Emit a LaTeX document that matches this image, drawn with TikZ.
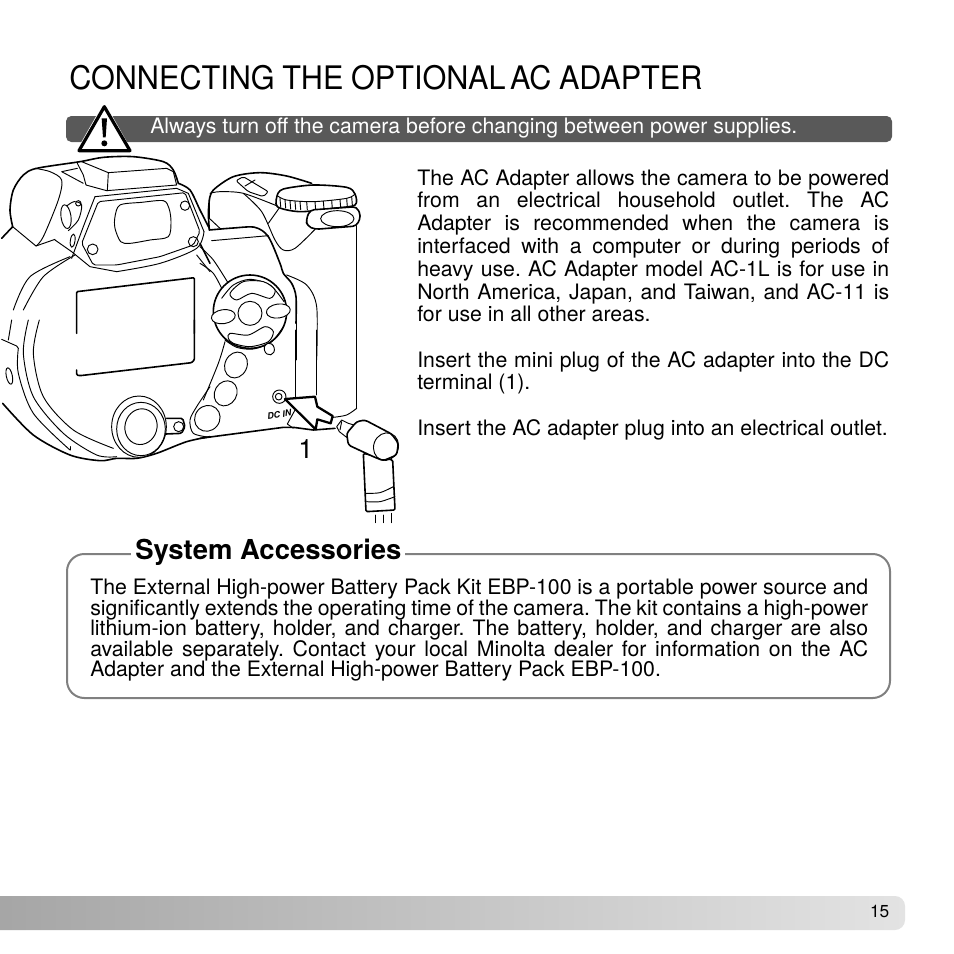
\documentclass[tikz,border=0pt]{standalone}
\usepackage{fontspec}
\setmainfont{TeX Gyre Heros}
\usetikzlibrary{calc}

\begin{document}
\begin{tikzpicture}[x=0.75pt,y=-0.75pt]

\tikzset{camline/.style = {black,line width=0.7pt,line join=round,line cap=round}}
\tikzset{camthick/.style = {black,line width=1.2pt,line join=round,line cap=round}}
\tikzset{bodytext/.style = {anchor=north west,inner sep=0pt,align=justify,font=\fontsize{15.95}{17.1}\selectfont\frenchspacing}}
\tikzset{boxtext/.style = {anchor=north west,inner sep=0pt,align=justify,font=\fontsize{15.95}{15.4}\selectfont\frenchspacing}}
\tikzset{topview/.style = {shift={(0,100)},x=0.25pt,y=-0.25pt}}
\tikzset{gripview/.style = {shift={(200,150)},x=0.25pt,y=-0.25pt}}
\tikzset{lowview/.style = {shift={(0,320)},x=0.25pt,y=-0.25pt}}
\tikzset{plugview/.style = {shift={(200,330)},x=0.25pt,y=-0.25pt}}

\useasboundingbox (0,0) rectangle (954,954);
\fill[white] (0,0) rectangle (954,954);

%heading
\node[anchor=west,inner sep=0pt,xscale=0.945,transform shape,font=\fontsize{24.3}{30}\selectfont] (title) at (69,78) {\spaceskip=6pt CONNECTING THE OPTIONAL\kern-2.5pt{} AC ADAPTER};
\fill[black!65,rounded corners=4pt] (66,116) rectangle (892,142);
\node[anchor=base west,inner sep=0pt,text=white,font=\fontsize{15.95}{17}\selectfont] (warning) at (150,133.5) {Always turn off the camera before changing between power supplies.};

%warning sign
\begin{scope}[topview]
\fill[white] (313,5) -- (225,160) -- (400,160) -- cycle;
\draw[black,line width=2.4pt,line join=round] (313,20) -- (237,152) -- (390,152) -- cycle;
\fill[black] (305,55) -- (321,55) -- (317,112) -- (309,112) -- cycle;
\fill[black] (313,130) circle (9);
\end{scope}

%grip
\begin{scope}[gripview]
\draw[camthick] plot[smooth] coordinates {(28,150) (40,120) (100,80) (180,68) (260,78) (335,100)};
\draw[camline] (28,150) -- (28,205) -- (60,235);
\draw[camline] plot[smooth] coordinates {(30,130) (60,125) (130,130) (232,168)};
\draw[camline] plot[smooth] coordinates {(130,130) (185,185) (225,270) (250,300) (285,295) (345,238)};
\draw[camline] (237,175) -- (205,220);
\draw[camline,rounded corners=1.5pt] (108,92) -- (130,80) -- (205,125) -- (190,140) -- (145,125) -- cycle;
\draw[camline] (135,108) -- (165,90);
\draw[camthick] plot[smooth] coordinates {(28,240) (100,234) (165,232) (205,260) (240,340) (250,370) (275,400) (288,440) (288,520)};
\draw[camline] (288,520) -- (288,630);
\draw[camline] (35,272) -- (205,257);
\draw[camline] plot[smooth] coordinates {(260,375) (320,405) (350,470) (350,630)};
\draw[camthick] (470,228) -- (470,630);
%top dial
\draw[camthick,fill=white] plot[smooth] coordinates {(232,135) (250,117) (340,105) (440,112) (465,132) (465,165) (400,175) (300,185) (232,170) (232,135)};
\draw[camline] plot[smooth] coordinates {(232,137) (260,150) (340,155) (440,145) (465,132)};
\foreach \tx/\ty in {240/145,255/149,270/152,285/153,300/154,320/155,345/155,370/153,395/151,420/148,440/145,455/140}
  \draw[camline] (\tx,\ty) -- ++(2,25);
\draw[camthick,fill=white,rounded corners=3pt] (318,210) -- (330,180) -- (470,170) -- (483,198) -- (470,228) -- (345,238) -- (322,228) -- cycle;
\draw[camline] (412,206) ellipse (50 and 24);
\end{scope}

%arcs behind the control pad
\begin{scope}[gripview]
\draw[camline] plot[smooth] coordinates {(0,290) (40,330) (85,400)};
\draw[camline] plot[smooth] coordinates {(0,340) (40,370) (70,425)};
\draw[camthick,fill=white] (150,485) circle (110);
\draw[camline] plot[smooth] coordinates {(65,445) (100,405) (150,388) (210,405) (252,455)};
\draw[camline] plot[smooth] coordinates {(75,570) (110,592) (160,597) (215,575) (250,530)};
\draw[camline,fill=white] plot[smooth cycle] coordinates {(90,430) (130,395) (190,395) (225,420) (210,445) (155,430) (110,450)};
\draw[camline,fill=white] plot[smooth cycle] coordinates {(90,550) (145,555) (195,530) (220,545) (205,575) (150,590) (100,580) (85,565)};
\draw[camline,fill=white,rotate around={8:(70,500)}] (70,500) ellipse (36 and 21);
\draw[camline,fill=white,rotate around={8:(235,483)}] (235,483) ellipse (36 and 21);
\draw[camline,fill=white] (150,490) circle (36);
\draw[camline,fill=white,rotate around={15:(208,597)}] (208,597) ellipse (15 and 18);
\end{scope}

%viewfinder
\begin{scope}[topview]
\draw[camthick] plot[smooth] coordinates {(5,415) (38,380)};
\draw[camthick] plot[smooth] coordinates {(38,380) (30,330) (40,270) (70,225) (110,205) (240,185) (310,172) (400,170) (490,185) (520,210) (535,250)};
\draw[camthick] plot[smooth] coordinates {(535,250) (570,270) (600,330) (628,385)};
\draw[camline] (38,380) -- (108,438) -- (165,418);
\draw[camline] plot[smooth] coordinates {(105,205) (150,215) (185,240) (175,300) (130,410) (108,438)};
\draw[camline] (232,190) -- (250,225) -- (258,255) -- (320,272) -- (530,255) -- (520,215);
\draw[camline] (245,185) -- (325,218) -- (500,205) -- (520,215);
\draw[camline] (325,218) -- (322,272);
\draw[camline] (232,205) -- (185,215) -- (250,250);
\draw[camline] plot[smooth] coordinates {(200,318) (222,305) (245,315) (235,360) (205,392)};
\draw[camline,fill=white,rotate around={8:(198,350)}] (198,350) ellipse (15 and 36);
\draw[camline,rotate around={-8:(218,422)}] (218,422) ellipse (7 and 20);
\draw[camline] (235,310) circle (8);
\draw[camline] (165,420) -- (215,455) -- (270,500) -- (350,515);
\draw[camline] plot[smooth] coordinates {(285,290) (250,380) (215,475)};
\draw[camline] plot[smooth] coordinates {(350,515) (480,490) (590,445) (612,395)};
\draw[camline] (285,290) -- (530,265) -- (565,280) -- (612,395);
\draw[camline,rounded corners=1.5pt] (295,305) -- (555,278) -- (600,395) -- (580,435) -- (480,470) -- (350,495) -- (280,495) -- (245,430) -- cycle;
\draw[camline] plot[smooth cycle] coordinates {(360,315) (425,307) (490,302) (507,325) (513,365) (505,410) (450,420) (390,430) (362,425) (345,385) (345,350)};
\draw[camline] (278,448) circle (16);
\draw[camline] (555,317) circle (14);
\draw[camline] (580,425) circle (15);
\draw[camthick] (600,430) -- (630,490);
\draw[camline] (590,465) -- (630,515);
\draw[camthick] plot[smooth] coordinates {(628,300) (625,340) (628,390)};
%rings
\draw[camline] plot[smooth] coordinates {(225,465) (130,530) (70,630)};
\draw[camline] plot[smooth] coordinates {(210,470) (90,530) (40,630)};
%display
\draw[camthick,rounded corners=0.8pt] (230,700) -- (230,575) -- (583,533) -- (583,700);
\end{scope}

%lower body
\begin{scope}[lowview]
\draw[camline] plot[smooth] coordinates {(35,0) (25,60)};
\draw[camline] (5,58) -- (50,78) -- (55,85);
\draw[camline] plot[smooth] coordinates {(55,85) (55,160) (100,280) (210,390)};
\draw[camline] (210,380) -- (210,390);
\draw[camline] plot[smooth] coordinates {(85,0) (70,100) (100,230) (190,340) (290,405) (350,410)};
\draw[camline] plot[smooth] coordinates {(118,0) (100,100) (130,230) (220,330) (340,385)};
\draw[camline,rotate around={12:(28,168)}] (28,168) ellipse (9 and 25);
\draw[camthick] plot[smooth] coordinates {(8,250) (100,345) (210,405) (300,422) (350,415) (410,415) (470,400) (560,365) (630,350)};
\draw[camthick,rounded corners=0.8pt] (230,150) -- (230,165) -- (240,167) -- (575,128) -- (583,120) -- (583,0);
%round button
\draw[camthick,rounded corners=1.2pt] (500,295) -- (548,295) -- (555,320) -- (545,340) -- (497,342);
\draw[camline] (536,320) circle (15);
\draw[camline,fill=white] (417,320) ellipse (82 and 92);
\draw[camline] (423,327) ellipse (73 and 80);
\draw[camline,rotate around={-15:(423,320)}] (423,320) ellipse (48 and 54);
\draw[camline] plot[smooth] coordinates {(630,200) (590,260) (570,300) (580,340) (630,352)};
\end{scope}

%buttons and socket
\begin{scope}[plugview]
\draw[camline] plot[smooth] coordinates {(75,35) (55,100) (10,210)};
\draw[camline,rotate around={-25:(108,105)}] (108,105) ellipse (33 and 40);
\draw[camline,rotate around={-30:(77,190)}] (77,190) ellipse (33 and 39);
\draw[camline,rotate around={-40:(22,265)}] (22,265) ellipse (37 and 40);
\draw[camline] (285,0) -- (285,200);
\draw[camline] (350,0) -- (350,195);
\draw[camthick] (470,0) -- (470,235);
\draw[camline] plot[smooth] coordinates {(470,235) (440,255) (400,262)};
\draw[camline] (285,240) -- (262,282) -- (280,295);
\draw[camthick] (0,325) -- (250,292) -- (280,292) -- (340,300) -- (405,295);
\draw[camline,fill=white] (238,200) circle (20);
\draw[camline] (236,200) circle (10);
\node[rotate=8,inner sep=0pt,font=\fontsize{6.6}{7}\selectfont\bfseries\itshape] (dcin) at (238,253) {DC IN};
\draw[black,line width=1.7pt,line join=round,fill=white] (255,207) -- (345,200) -- (352,230) -- (398,258) -- (392,280) -- (352,268) -- (347,298) -- cycle;
%mini plug
\draw[camthick,fill=white,rounded corners=1pt] (490,370) -- (498,545) -- (585,540) -- (578,390) -- cycle;
\draw[camline] plot[smooth] coordinates {(498,490) (540,488) (580,470)};
\draw[camline] plot[smooth] coordinates {(500,515) (540,515) (585,500)};
\draw[camline] (525,555) -- (525,578);
\draw[camline] (550,555) -- (550,578);
\draw[camline] (575,550) -- (575,578);
\draw[camline,fill=white] (410,290) -- (425,270) -- (445,280) -- (462,285) -- (440,322) -- (418,305) -- cycle;
\draw[camline] (425,275) -- (420,300);
\draw[camthick,fill=white,rounded corners=2pt] (440,310) -- (470,275) -- (495,270) -- (575,312) -- (595,340) -- (590,375) -- (550,392) -- (520,380) -- (445,345) -- cycle;
\draw[camline,rotate around={-20:(558,350)}] (558,350) ellipse (37 and 42);
\node[inner sep=0pt,font=\fontsize{20}{22}\selectfont] (num) at (317,358) {1};
\end{scope}

%right column
\node[bodytext,text width=354pt] (para1) at (417,169) {The AC Adapter allows the camera to be powered\linebreak from an electrical household outlet. The AC\linebreak Adapter is recommended when the camera is\linebreak interfaced with a computer or during periods of\linebreak heavy use. AC Adapter model AC-1L is for use in\linebreak North America, Japan, and Taiwan, and AC-11 is\linebreak for use in all other areas.};
\node[bodytext,text width=354pt] (para2) at (417,351) {Insert the mini plug of the AC adapter into the DC\linebreak terminal (1).};
\node[bodytext,text width=354pt] (para3) at (417,419) {Insert the AC adapter plug into an electrical outlet.};

%accessories box
\draw[black!50,line width=1.5pt,rounded corners=13pt] (67,554) rectangle (890,698);
\node[inner sep=0pt,fill=white,minimum width=274pt*0.75,minimum height=24pt] (boxgap) at (268,550) {};
\node[anchor=base west,inner sep=0pt,font=\fontsize{20.6}{24}\selectfont\bfseries] (boxtitle) at (135,559) {System Accessories};
\node[boxtext,text width=583.5pt] (boxbody) at (90,579) {The External High-power Battery Pack Kit EBP-100 is a portable power source and\linebreak significantly extends the operating time of the camera. The kit contains a high-power\linebreak lithium-ion battery, holder, and charger. The battery, holder, and charger are also\linebreak available separately. Contact your local Minolta dealer for information on the AC\linebreak Adapter and the External High-power Battery Pack EBP-100.};

%page strip
\shade[left color=black!35,right color=black!11,shading angle=90,rounded corners=0pt]
  (0,896) -- (895,896) to[out=0,in=90] (905,906) -- (905,920) to[out=-90,in=0] (895,930) -- (0,930) -- cycle;
\node[inner sep=0pt,font=\fontsize{13}{14}\selectfont] (pagenum) at (879.7,911) {15};

\end{tikzpicture}
\end{document}
